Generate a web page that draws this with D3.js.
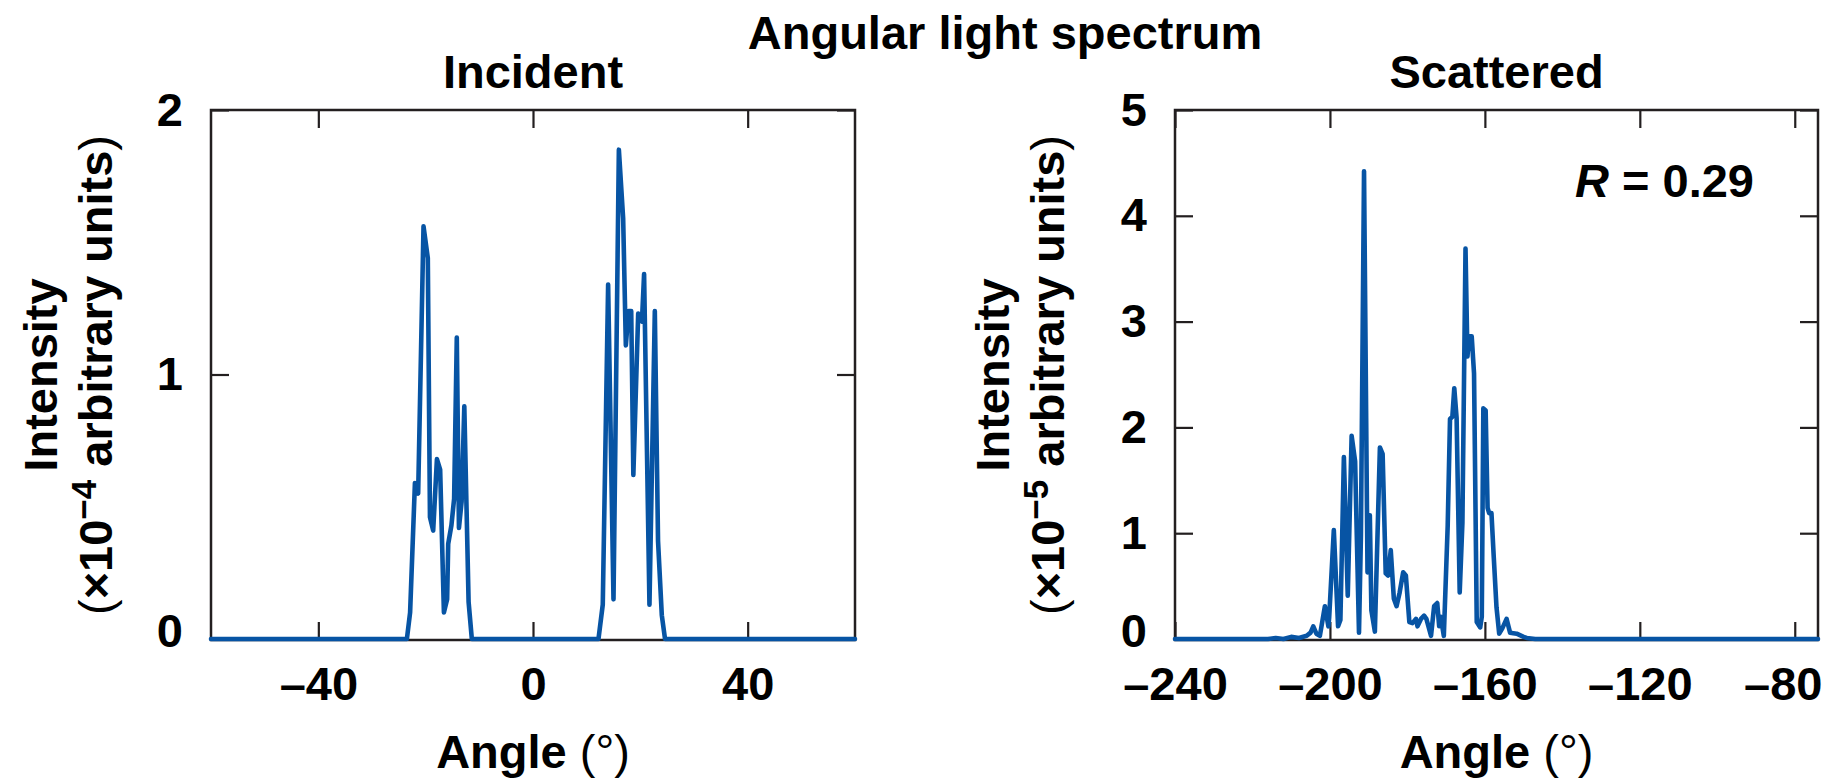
<!DOCTYPE html>
<html>
<head>
<meta charset="utf-8">
<script src="https://cdn.jsdelivr.net/npm/d3@7"></script>
<style>
  body { margin: 0; background: #fff; }
  text { font-family: "Liberation Sans", Arial, sans-serif; font-weight: bold; fill: #000; }
</style>
</head>
<body>
<svg id="chart" width="1829" height="779"></svg>
<script>
// Incident spectrum, intensity in units of 1e-4
const incidentAngle = [-60, -23.5, -22.9, -22.0, -21.4, -20.4, -19.6, -19.2, -18.6, -17.9, -17.3, -16.6, -16.0, -15.8, -15.2, -14.7, -14.2, -13.8, -13.3, -12.8, -12.0, -11.4,
  12.2, 13.0, 14.0, 15.0, 16.0, 16.8, 17.3, 17.8, 18.3, 18.7, 19.6, 20.3, 20.7, 21.7, 22.7, 23.3, 24.0, 24.6, 60];
const incidentIntensity = [0, 0, 0.10, 0.59, 0.55, 1.56, 1.44, 0.46, 0.41, 0.68, 0.64, 0.10, 0.15, 0.36, 0.43, 0.53, 1.14, 0.42, 0.52, 0.88, 0.14, 0,
  0, 0.13, 1.34, 0.15, 1.85, 1.59, 1.11, 1.24, 1.24, 0.62, 1.23, 1.20, 1.38, 0.13, 1.24, 0.37, 0.09, 0, 0];

// Scattered spectrum, intensity in units of 1e-5
const scatteredAngle = [-240, -216, -214, -212, -210, -208, -206, -205, -204.3, -203.5, -202.6, -201.3, -200.4, -200.2, -199.0, -197.9, -197.3, -196.4, -195.4, -194.4, -193.5,
  -192.5, -192.0, -191.2, -190.3, -189.7, -189.3, -188.4, -187.1, -186.4, -185.6, -185.0, -184.3, -183.5, -182.8, -182.0, -181.1, -180.4, -179.5, -178.7,
  -177.8, -177.4, -176.5, -175.7, -175.1, -173.9, -173.1, -172.3, -171.8, -171.4, -170.6, -169.6, -169.0, -168.4, -167.9, -167.3, -166.5, -165.8, -165.0,
  -164.5, -164.1, -163.4, -162.8, -162.1, -161.2, -160.8, -160.4, -159.8, -159.3, -158.9, -158.3, -157.7, -157.0, -156.3, -155.5, -154.4, -153.5, -151.8,
  -150.0, -149.2, -147, -74];
const scatteredIntensity = [0, 0, 0.01, 0, 0.02, 0.01, 0.03, 0.06, 0.12, 0.05, 0.03, 0.31, 0.12, 0.20, 1.03, 0.12, 0.18, 1.72, 0.41, 1.92, 1.68,
  0.06, 0.98, 4.42, 0.63, 1.17, 0.27, 0.07, 1.81, 1.75, 0.62, 0.60, 0.84, 0.38, 0.31, 0.44, 0.63, 0.60, 0.16, 0.15,
  0.19, 0.12, 0.19, 0.22, 0.19, 0.03, 0.31, 0.34, 0.12, 0.21, 0.03, 1.07, 2.08, 2.10, 2.37, 2.09, 0.44, 1.10, 3.69,
  2.67, 2.86, 2.86, 2.51, 0.16, 0.11, 0.21, 2.18, 2.16, 1.24, 1.19, 1.19, 0.77, 0.30, 0.05, 0.10, 0.19, 0.06, 0.05,
  0.02, 0.01, 0, 0];

const incidentXTicks = [-40, 0, 40];
const incidentYTicks = [0, 1, 2];
const scatteredXTicks = [-240, -200, -160, -120, -80];
const scatteredYTicks = [0, 1, 2, 3, 4, 5];

const svg = d3.select('#chart');
const plotTop = 110, plotBottom = 640;
const fontSize = 47;
const lineColor = '#0754a4';
const frameColor = '#231f20';
const fmt = d => d < 0 ? '\u2013' + Math.abs(d) : String(d);

svg.append('text')
  .attr('x', 1005).attr('y', 49)
  .attr('text-anchor', 'middle')
  .attr('font-size', fontSize)
  .text('Angular light spectrum');

function drawPanel(p) {
  const x = d3.scaleLinear().domain(p.xDomain).range([p.left, p.right]);
  const y = d3.scaleLinear().domain(p.yDomain).range([plotBottom - 1, plotTop]);
  const g = svg.append('g');
  const cx = (p.left + p.right) / 2;

  // frame
  g.append('rect')
    .attr('x', p.left).attr('y', plotTop)
    .attr('width', p.right - p.left).attr('height', plotBottom - plotTop)
    .attr('fill', 'none').attr('stroke', frameColor).attr('stroke-width', 2.5);

  // inward ticks on all four sides
  const tickAxes = [
    [d3.axisBottom(x).tickValues(p.xTicks), `translate(0,${plotBottom})`],
    [d3.axisTop(x).tickValues(p.xTicks), `translate(0,${plotTop})`],
    [d3.axisLeft(y).tickValues(p.yTicks), `translate(${p.left},0)`],
    [d3.axisRight(y).tickValues(p.yTicks), `translate(${p.right},0)`]
  ];
  tickAxes.forEach(([ax, tr]) => {
    const a = g.append('g').attr('transform', tr)
      .call(ax.tickSize(-18).tickFormat(''));
    a.select('.domain').remove();
    a.selectAll('line').attr('stroke', frameColor).attr('stroke-width', 2.2);
  });

  // tick labels
  const xl = g.append('g').attr('transform', `translate(0,${plotBottom})`)
    .call(d3.axisBottom(x).tickValues(p.xTicks).tickSize(0).tickPadding(27).tickFormat(fmt));
  const yl = g.append('g').attr('transform', `translate(${p.left},0)`)
    .call(d3.axisLeft(y).tickValues(p.yTicks).tickSize(0).tickPadding(28).tickFormat(fmt));
  [xl, yl].forEach(a => {
    a.select('.domain').remove();
    a.selectAll('text')
      .attr('font-size', fontSize)
      .attr('font-family', '"Liberation Sans", Arial, sans-serif')
      .attr('fill', '#000');
  });
  // the zero label sits a little above the bottom edge, as in the original
  yl.selectAll('.tick text').filter(d => d === 0).attr('y', -8);
  // last x label nudged left so it stays inside the figure
  if (p.lastLabelShift) {
    xl.selectAll('.tick text').filter((d, i, n) => i === n.length - 1)
      .attr('dx', -p.lastLabelShift);
  }

  // spectrum
  const line = d3.line().x(d => x(d[0])).y(d => y(d[1]));
  g.append('path')
    .datum(d3.zip(p.angle, p.intensity))
    .attr('d', line)
    .attr('fill', 'none')
    .attr('stroke', lineColor)
    .attr('stroke-width', 4.6)
    .attr('stroke-linejoin', 'round')
    .attr('stroke-linecap', 'round');

  // panel title
  g.append('text')
    .attr('x', cx).attr('y', 88)
    .attr('text-anchor', 'middle').attr('font-size', fontSize)
    .text(p.title);

  // x label
  const xt = g.append('text')
    .attr('x', cx).attr('y', 768)
    .attr('text-anchor', 'middle').attr('font-size', fontSize);
  xt.append('tspan').text('Angle ');
  xt.append('tspan').attr('font-weight', 'normal').text('(°)');

  // y label, two lines
  const cy = (plotTop + plotBottom) / 2;
  g.append('text')
    .attr('transform', `translate(${p.yLabelX},${cy}) rotate(-90)`)
    .attr('text-anchor', 'middle').attr('font-size', fontSize)
    .text('Intensity');
  const yt = g.append('text')
    .attr('transform', `translate(${p.yLabelX + 55},${cy}) rotate(-90)`)
    .attr('text-anchor', 'middle').attr('font-size', fontSize);
  yt.append('tspan').attr('font-weight', 'normal').text('(');
  yt.append('tspan').text('×10');
  yt.append('tspan').attr('dy', -16).attr('font-size', 35).text('\u2212' + p.exponent);
  yt.append('tspan').attr('dy', 16).text(' arbitrary units');
  yt.append('tspan').attr('font-weight', 'normal').text(')');

  return { x, y, g };
}

drawPanel({
  left: 211, right: 855,
  xDomain: [-60, 60], yDomain: [0, 2],
  xTicks: incidentXTicks, yTicks: incidentYTicks,
  angle: incidentAngle, intensity: incidentIntensity,
  title: 'Incident', exponent: 4, yLabelX: 57
});

const sc = drawPanel({
  left: 1175, right: 1818,
  xDomain: [-240, -74], yDomain: [0, 5],
  xTicks: scatteredXTicks, yTicks: scatteredYTicks,
  angle: scatteredAngle, intensity: scatteredIntensity,
  title: 'Scattered', exponent: 5, yLabelX: 1009, lastLabelShift: 12
});

const r = sc.g.append('text')
  .attr('x', 1575).attr('y', 197)
  .attr('font-size', fontSize);
r.append('tspan').attr('font-style', 'italic').text('R');
r.append('tspan').text(' = 0.29');
</script>
</body>
</html>
